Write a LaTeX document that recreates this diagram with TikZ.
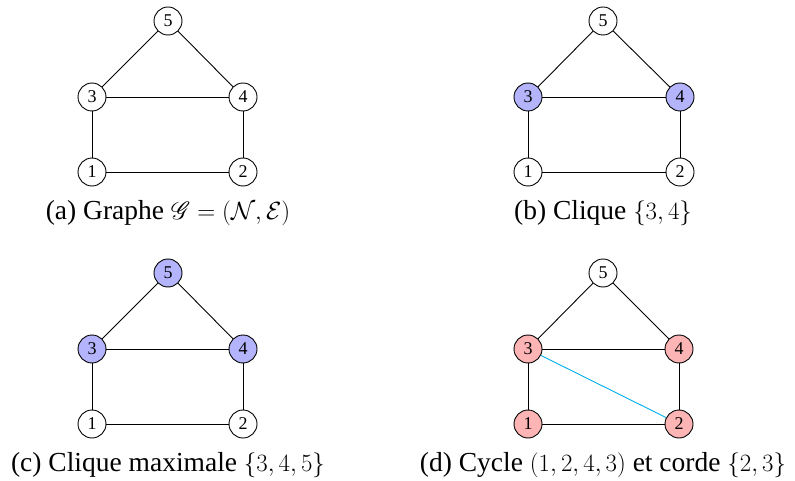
\documentclass[tikz,border=0pt]{standalone}
\usepackage{fontspec}
\setmainfont{Liberation Serif}
\usepackage{mathrsfs}
\usetikzlibrary{positioning}
\definecolor{cliqueblue}{RGB}{180,180,252}
\definecolor{cyclered}{RGB}{252,180,180}
\definecolor{chordcyan}{RGB}{0,175,235}
\tikzset{
  vtx/.style={circle,draw=black,line width=0.9pt,minimum size=28pt,inner sep=0pt,font=\fontsize{18}{18}\selectfont,fill=white},
  vblue/.style={vtx,fill=cliqueblue},
  vred/.style={vtx,fill=cyclered},
  edge/.style={line width=0.9pt,draw=black},
  chord/.style={line width=0.9pt,draw=chordcyan},
  captxt/.style={anchor=base,font=\fontsize{27.5}{30}\selectfont,inner sep=0pt}
}
\begin{document}
\begin{tikzpicture}[x=1pt,y=-1pt]
\useasboundingbox (0,0) rectangle (795,481);
% (a)
\node[vtx] (a5) at (168,21) {5};
\node[vtx] (a3) at (92,97) {3};
\node[vtx] (a4) at (243,97) {4};
\node[vtx] (a1) at (92,172) {1};
\node[vtx] (a2) at (243,172) {2};
\draw[edge] (a5)--(a3); \draw[edge] (a5)--(a4); \draw[edge] (a3)--(a4);
\draw[edge] (a3)--(a1); \draw[edge] (a4)--(a2); \draw[edge] (a1)--(a2);
\node[captxt] (capa) at (168,219) {(a) Graphe $\mathscr{G}=(\mathcal{N},\mathcal{E})$};
% (b)
\node[vtx] (b5) at (603,21) {5};
\node[vblue] (b3) at (528,97) {3};
\node[vblue] (b4) at (680,97) {4};
\node[vtx] (b1) at (528,172) {1};
\node[vtx] (b2) at (680,172) {2};
\draw[edge] (b5)--(b3); \draw[edge] (b5)--(b4); \draw[edge] (b3)--(b4);
\draw[edge] (b3)--(b1); \draw[edge] (b4)--(b2); \draw[edge] (b1)--(b2);
\node[captxt] (capb) at (603,219) {(b) Clique $\{3,4\}$};
% (c)
\node[vblue] (c5) at (168,273) {5};
\node[vblue] (c3) at (92,349) {3};
\node[vblue] (c4) at (243,349) {4};
\node[vtx] (c1) at (92,424) {1};
\node[vtx] (c2) at (243,424) {2};
\draw[edge] (c5)--(c3); \draw[edge] (c5)--(c4); \draw[edge] (c3)--(c4);
\draw[edge] (c3)--(c1); \draw[edge] (c4)--(c2); \draw[edge] (c1)--(c2);
\node[captxt] (capc) at (168,471) {(c) Clique maximale $\{3,4,5\}$};
% (d)
\node[vtx] (d5) at (603,273) {5};
\node[vred] (d3) at (528,349) {3};
\node[vred] (d4) at (679,349) {4};
\node[vred] (d1) at (528,424) {1};
\node[vred] (d2) at (679,424) {2};
\draw[edge] (d5)--(d3); \draw[edge] (d5)--(d4); \draw[edge] (d3)--(d4);
\draw[edge] (d3)--(d1); \draw[edge] (d4)--(d2); \draw[edge] (d1)--(d2);
\draw[chord] (d3)--(d2);
\node[captxt] (capd) at (603,471) {(d) Cycle $(1,2,4,3)$ et corde $\{2,3\}$};
\end{tikzpicture}
\end{document}
